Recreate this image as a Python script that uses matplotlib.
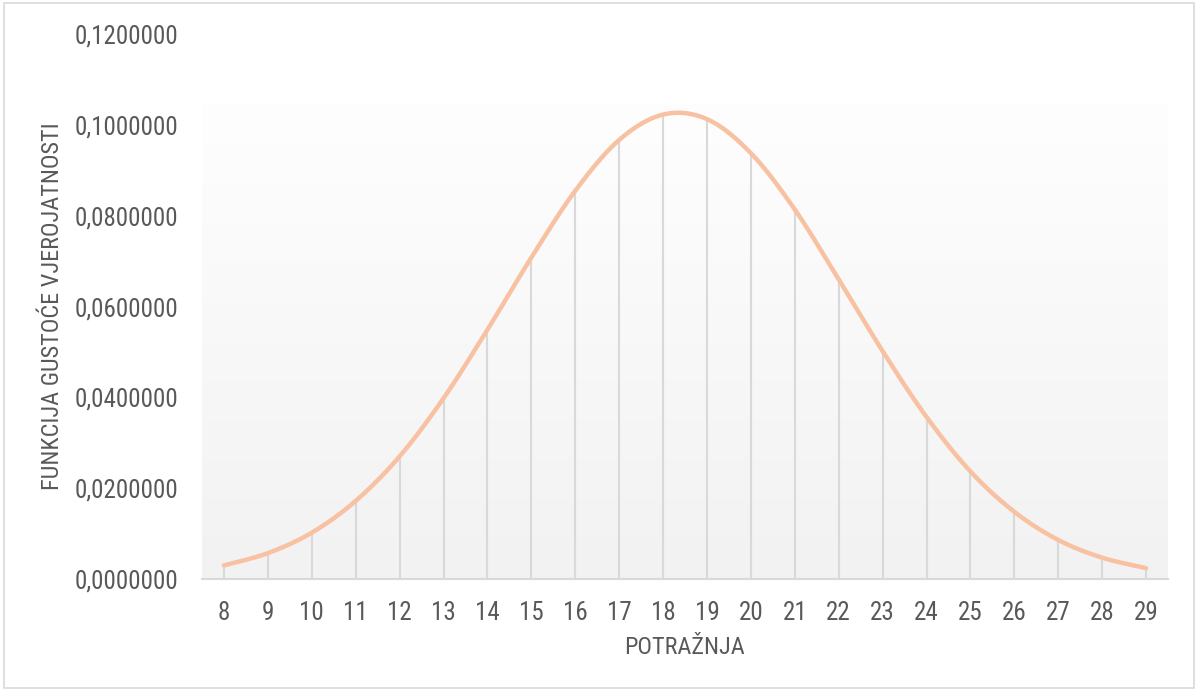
import numpy as np
import matplotlib
matplotlib.use("Agg")
import matplotlib.pyplot as plt
from matplotlib import font_manager
from matplotlib.patches import Rectangle
from matplotlib.ticker import FuncFormatter

# ---- data ----
potraznja = [8, 9, 10, 11, 12, 13, 14, 15, 16, 17, 18, 19, 20, 21, 22, 23, 24, 25, 26, 27, 28, 29]
gustoca = [0.0030, 0.0057, 0.0102, 0.0172, 0.0270, 0.0398, 0.0549, 0.0708, 0.0855, 0.0967,
           0.1023, 0.1013, 0.0938, 0.0814, 0.0660, 0.0502, 0.0357, 0.0237, 0.0148, 0.0086,
           0.0047, 0.0024]
y_ticks = [0.0, 0.02, 0.04, 0.06, 0.08, 0.10, 0.12]
x_title = "POTRAŽNJA"
y_title = "FUNKCIJA GUSTOĆE VJEROJATNOSTI"

# ---- font ----
avail = {f.name for f in font_manager.fontManager.ttflist}
fams = [f for f in ["Roboto Condensed", "Liberation Sans Narrow", "Roboto", "DejaVu Sans"] if f in avail]
plt.rcParams["font.family"] = fams

txt = "#595959"
grid = "#d9d9d9"
line_c = "#f8c1a2"

fig = plt.figure(figsize=(11.98, 6.90), dpi=100)
fig.patches.append(Rectangle((0.003, 0.003), 0.994, 0.992, transform=fig.transFigure,
                             fill=False, edgecolor="#d9d9d9", linewidth=1.2))
ax = fig.add_axes([202 / 1198, 1 - 579 / 690, (1168 - 202) / 1198, (579 - 34.2) / 690])

ax.set_xlim(7.5, 29.5)
ax.set_ylim(0, 0.12)

# gradient background
top = 0.1045
grad = np.linspace(0, 1, 256).reshape(-1, 1)
c_top = np.array([0xfe, 0xfe, 0xfe]) / 255
c_bot = np.array([0xf2, 0xf2, 0xf2]) / 255
img = c_bot[None, None, :] * (1 - grad[:, :, None]) + c_top[None, None, :] * grad[:, :, None]
ax.imshow(img, extent=[7.5, 29.5, 0, top], origin="lower", aspect="auto", zorder=0)

# drop lines
x = np.array(potraznja, dtype=float)
y = np.array(gustoca)
ax.vlines(x, 0, y, colors=grid, linewidth=1.5, zorder=1)

# smoothed line (Catmull-Rom style Bezier, as in spreadsheet smoothing)
def smooth(xs, ys, n=30):
    px, py = [], []
    N = len(xs)
    for i in range(N - 1):
        x0, y0 = (xs[i - 1], ys[i - 1]) if i > 0 else (xs[i], ys[i])
        x1, y1 = xs[i], ys[i]
        x2, y2 = xs[i + 1], ys[i + 1]
        x3, y3 = (xs[i + 2], ys[i + 2]) if i + 2 < N else (xs[i + 1], ys[i + 1])
        c1x, c1y = x1 + (x2 - x0) / 6, y1 + (y2 - y0) / 6
        c2x, c2y = x2 - (x3 - x1) / 6, y2 - (y3 - y1) / 6
        t = np.linspace(0, 1, n)
        bx = (1 - t) ** 3 * x1 + 3 * (1 - t) ** 2 * t * c1x + 3 * (1 - t) * t ** 2 * c2x + t ** 3 * x2
        by = (1 - t) ** 3 * y1 + 3 * (1 - t) ** 2 * t * c1y + 3 * (1 - t) * t ** 2 * c2y + t ** 3 * y2
        px.extend(bx)
        py.extend(by)
    return np.array(px), np.array(py)

sx, sy = smooth(x, y)
ax.plot(sx, sy, color=line_c, linewidth=3.2, solid_capstyle="round", zorder=3)

# axes styling
for s in ["top", "right", "left"]:
    ax.spines[s].set_visible(False)
ax.spines["bottom"].set_color(grid)
ax.spines["bottom"].set_linewidth(1.5)
ax.spines["bottom"].set_zorder(2)

ax.set_xticks(potraznja)
ax.set_xticklabels([str(v) for v in potraznja])
ax.set_yticks(y_ticks)
ax.yaxis.set_major_formatter(FuncFormatter(lambda v, p: f"{v:.7f}".replace(".", ",")))
ax.tick_params(axis="both", length=0, labelsize=18, labelcolor=txt)
ax.tick_params(axis="y", pad=17)
ax.tick_params(axis="x", pad=16)

ax.set_xlabel(x_title, fontsize=17.5, color=txt, labelpad=8)
ax.set_ylabel(y_title, fontsize=17.5, color=txt, labelpad=8)

fig.savefig("out.png", dpi=100, facecolor="white")
